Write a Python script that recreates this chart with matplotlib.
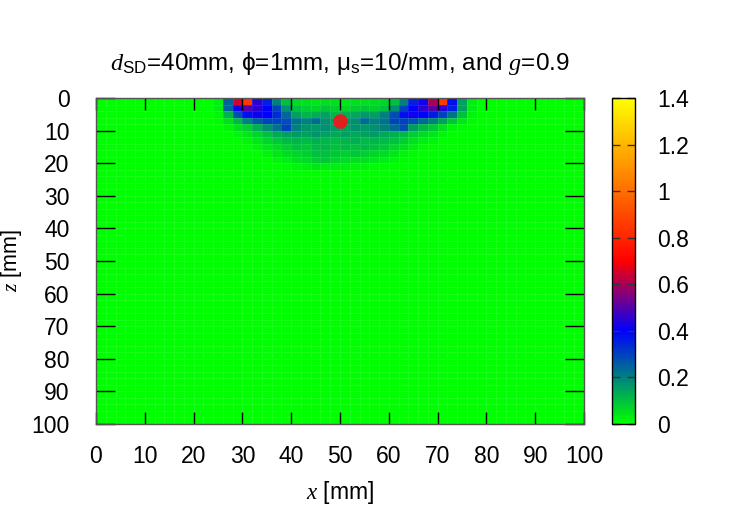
import numpy as np
import matplotlib
matplotlib.use("Agg")
import matplotlib.pyplot as plt
from matplotlib.colors import LinearSegmentedColormap

plt.rcParams['font.family'] = 'Liberation Sans'
plt.rcParams['mathtext.fontset'] = 'custom'
plt.rcParams['mathtext.rm'] = 'Liberation Sans'
plt.rcParams['mathtext.it'] = 'Liberation Serif:italic'
plt.rcParams['mathtext.default'] = 'rm'

# cell edges (mm)
x_edges = np.arange(0, 101, 2)
z_edges = np.arange(0, 101, 2)

# sensitivity, rows z=0-2,2-4,... ; columns x=24..76 (2 mm cells)
first_col = 12
rows = [
    [0.03, 0.25, 0.65, 0.85, 0.45, 0.35, 0.20, 0.10, 0.06, 0.05, 0.04, 0.05, 0.05, 0.04, 0.05, 0.05, 0.06, 0.07, 0.10, 0.20, 0.35, 0.42, 0.60, 0.85, 0.38, 0.15, 0.03],
    [0.03, 0.25, 0.42, 0.50, 0.45, 0.40, 0.30, 0.18, 0.10, 0.08, 0.07, 0.09, 0.08, 0.07, 0.08, 0.09, 0.08, 0.10, 0.18, 0.30, 0.40, 0.45, 0.50, 0.45, 0.35, 0.15, 0.03],
    [0.02, 0.12, 0.28, 0.38, 0.42, 0.40, 0.33, 0.24, 0.15, 0.12, 0.13, 0.15, 0.12, 0.13, 0.14, 0.16, 0.15, 0.20, 0.28, 0.38, 0.42, 0.40, 0.36, 0.30, 0.22, 0.10, 0.02],
    [0.01, 0.05, 0.12, 0.20, 0.26, 0.30, 0.30, 0.28, 0.22, 0.20, 0.23, 0.18, 0.16, 0.17, 0.18, 0.24, 0.20, 0.22, 0.30, 0.30, 0.28, 0.24, 0.20, 0.15, 0.09, 0.04, 0.01],
    [0.00, 0.02, 0.05, 0.08, 0.13, 0.18, 0.22, 0.30, 0.20, 0.17, 0.16, 0.18, 0.16, 0.15, 0.17, 0.16, 0.18, 0.20, 0.24, 0.28, 0.16, 0.12, 0.09, 0.05, 0.02, 0.01, 0.00],
    [0.00, 0.00, 0.02, 0.04, 0.07, 0.10, 0.14, 0.15, 0.16, 0.15, 0.17, 0.15, 0.14, 0.15, 0.14, 0.15, 0.16, 0.14, 0.13, 0.11, 0.08, 0.06, 0.04, 0.02, 0.00, 0.00, 0.00],
    [0.00, 0.00, 0.00, 0.02, 0.04, 0.07, 0.09, 0.11, 0.12, 0.11, 0.13, 0.12, 0.11, 0.12, 0.13, 0.11, 0.12, 0.11, 0.10, 0.08, 0.05, 0.03, 0.02, 0.00, 0.00, 0.00, 0.00],
    [0.00, 0.00, 0.00, 0.00, 0.02, 0.04, 0.06, 0.08, 0.10, 0.09, 0.11, 0.12, 0.10, 0.11, 0.10, 0.11, 0.10, 0.09, 0.07, 0.05, 0.03, 0.01, 0.00, 0.00, 0.00, 0.00, 0.00],
    [0.00, 0.00, 0.00, 0.00, 0.00, 0.02, 0.04, 0.06, 0.07, 0.08, 0.10, 0.10, 0.09, 0.08, 0.09, 0.08, 0.07, 0.06, 0.04, 0.02, 0.01, 0.00, 0.00, 0.00, 0.00, 0.00, 0.00],
    [0.00, 0.00, 0.00, 0.00, 0.00, 0.00, 0.02, 0.03, 0.05, 0.06, 0.08, 0.09, 0.07, 0.06, 0.05, 0.05, 0.04, 0.03, 0.02, 0.01, 0.00, 0.00, 0.00, 0.00, 0.00, 0.00, 0.00],
    [0.00, 0.00, 0.00, 0.00, 0.00, 0.00, 0.00, 0.01, 0.02, 0.03, 0.04, 0.03, 0.03, 0.03, 0.02, 0.02, 0.01, 0.01, 0.00, 0.00, 0.00, 0.00, 0.00, 0.00, 0.00, 0.00, 0.00],
]

# target point
dot_x = [50]
dot_z = [7]

data = np.zeros((len(z_edges) - 1, len(x_edges) - 1))
for i, r in enumerate(rows):
    data[i, first_col:first_col + len(r)] = r

cmap = LinearSegmentedColormap.from_list(
    'gp', [(0, '#00ff00'), (0.4 / 1.4, '#0000ff'), (0.7 / 1.4, '#ff0000'), (1, '#ffff00')])

fig = plt.figure(figsize=(7.47, 5.23), dpi=100)
ax = fig.add_axes([96 / 747, 1 - 424 / 523, (584 - 96) / 747, (424 - 98) / 523])
cax = fig.add_axes([612 / 747, 1 - 424 / 523, 23 / 747, (424 - 98) / 523])

mesh = ax.pcolormesh(x_edges, z_edges, data, cmap=cmap, vmin=0, vmax=1.4,
                     edgecolors=(1, 1, 1, 0.1), linewidth=0.4)
ax.plot(dot_x, dot_z, 'o', color='#e02020', markersize=9.5, zorder=5)

ax.set_xlim(0, 100)
ax.set_ylim(100, 0)
ax.set_xticks(np.arange(0, 101, 10))
ax.set_yticks(np.arange(0, 101, 10))
ax.tick_params(axis='x', direction='in', length=8.5, width=1, top=True,
               labelsize=16.5, pad=15)
ax.tick_params(axis='y', direction='in', length=14, width=1, right=True,
               labelsize=16.5, pad=19)
for s in ax.spines.values():
    s.set_color('#555555')
    s.set_linewidth(1)

ax.set_xlabel('$\\mathit{x}$ [mm]', fontsize=16.5, labelpad=8)
ax.set_ylabel('$\\mathit{z}$ [mm]', fontsize=15.5)
ax.yaxis.set_label_coords(-0.148, 0.5)
ax.set_title('$\\mathit{d}_{\\mathrm{SD}}$=40mm, $\\phi$=1mm, $\\mu_{\\mathrm{s}}$=10/mm, and $\\mathit{g}$=0.9',
             fontsize=17.5, pad=20)

cb = fig.colorbar(mesh, cax=cax)
cb.set_ticks([0, 0.2, 0.4, 0.6, 0.8, 1, 1.2, 1.4])
cb.set_ticklabels(['0', '0.2', '0.4', '0.6', '0.8', '1', '1.2', '1.4'])
cax.tick_params(direction='in', length=6, width=1, left=True, right=True,
                labelsize=16.5, pad=16, color='#333333')
cb.outline.set_linewidth(1)

fig.savefig('out.png', dpi=100)
